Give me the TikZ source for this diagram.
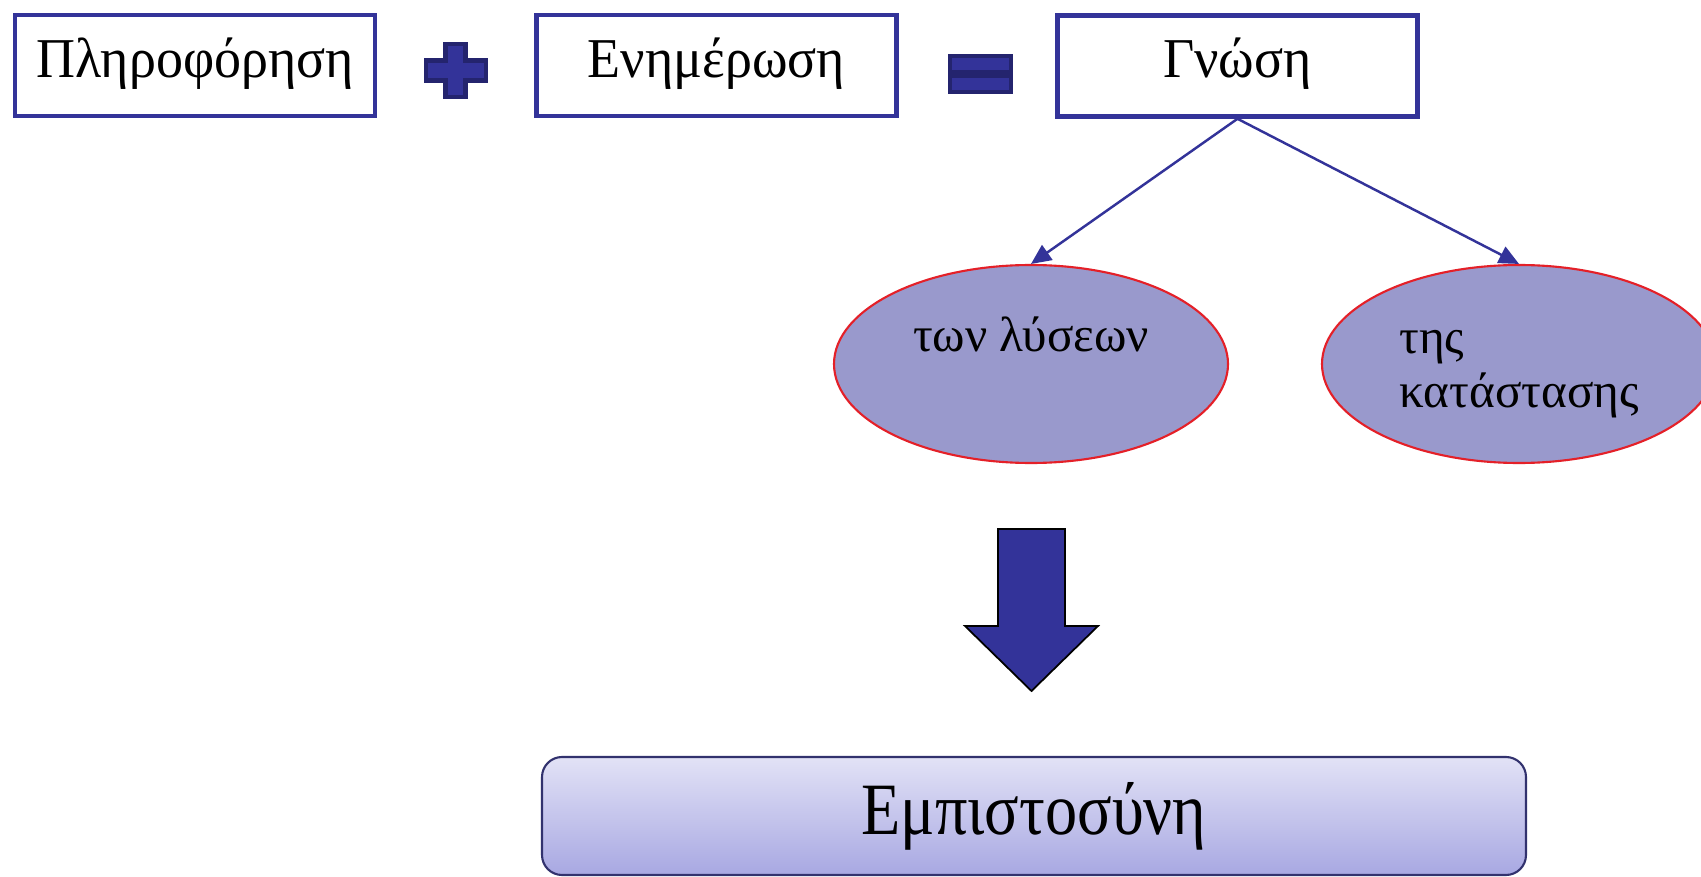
\documentclass[tikz,border=0pt]{standalone}
\usepackage{fontspec}
\setmainfont{Liberation Serif}
\newfontfamily\narrowserif{Liberation Serif}[FakeStretch=0.87]
\newfontfamily\boxserif{Liberation Serif}[FakeStretch=0.96]
\usetikzlibrary{arrows.meta,shapes.geometric}

\definecolor{navy}{RGB}{51,51,153}
\definecolor{darknavy}{RGB}{36,36,110}
\definecolor{ovalfill}{RGB}{153,153,204}
\definecolor{ovalline}{RGB}{228,32,40}
\definecolor{boxtop}{RGB}{226,226,246}
\definecolor{boxbottom}{RGB}{168,168,226}
\definecolor{boxline}{RGB}{50,50,110}

\tikzset{
  termbox/.style={draw=navy, line width=1.3pt, fill=white,
    minimum width=36mm, minimum height=10.1mm, inner sep=0pt,
    text depth=1.6mm,
    font=\boxserif\fontsize{16}{18}\selectfont},
  signpart/.style={fill=navy, draw=darknavy, line width=1.2pt},
  oval/.style={ellipse, draw=ovalline, line width=0.6pt, fill=ovalfill,
    minimum width=39.4mm, minimum height=19.8mm, inner sep=0pt,
    font=\fontsize{14}{15.3}\selectfont},
  link/.style={draw=navy, line width=0.7pt,
    -{Triangle[length=2mm,width=1.8mm]}},
  trustbox/.style={draw=boxline, line width=0.6pt, rounded corners=2mm,
    top color=boxtop, bottom color=boxbottom,
    minimum width=98.4mm, minimum height=11.8mm, inner sep=0pt,
    font=\narrowserif\fontsize{21}{24}\selectfont}
}

\begin{document}
\begin{tikzpicture}[x=0.1mm,y=-0.1mm]
  \useasboundingbox (0,0) rectangle (1701,877);

  % top row
  \node[termbox] (info) at (195,65.5) {Πληροφόρηση};
  \node[termbox] (update) at (716.5,65.5) {Ενημέρωση};
  \node[termbox] (know) at (1237.5,66) {Γνώση};

  % plus and equals
  \filldraw[signpart] (445.6,44) -- (465.6,44) -- (465.6,60.5) -- (486,60.5)
    -- (486,80.5) -- (465.6,80.5) -- (465.6,97) -- (445.6,97) -- (445.6,80.5)
    -- (426,80.5) -- (426,60.5) -- (445.6,60.5) -- cycle;
  \filldraw[signpart] (950,56) rectangle (1011,72);
  \filldraw[signpart] (950,76) rectangle (1011,92);

  % the two kinds of knowledge
  \node[oval, align=center] (sol) at (1031,364)
    {\rule{0pt}{4.5mm}των λύσεων\\\strut};
  \node[oval, align=left] (state) at (1519,364)
    {\rule{0pt}{4.3mm}της\\κατάστασης};

  \draw[link] (know.south) -- (sol.north);
  \draw[link] (know.south) -- (state.north);

  % big arrow down
  \filldraw[fill=navy, draw=black, line width=0.5pt]
    (998,529) -- (1065,529) -- (1065,626) -- (1098,626) -- (1031.5,691)
    -- (965,626) -- (998,626) -- cycle;

  \node[trustbox] (trust) at (1034,816) {Εμπιστοσύνη};
\end{tikzpicture}
\end{document}
